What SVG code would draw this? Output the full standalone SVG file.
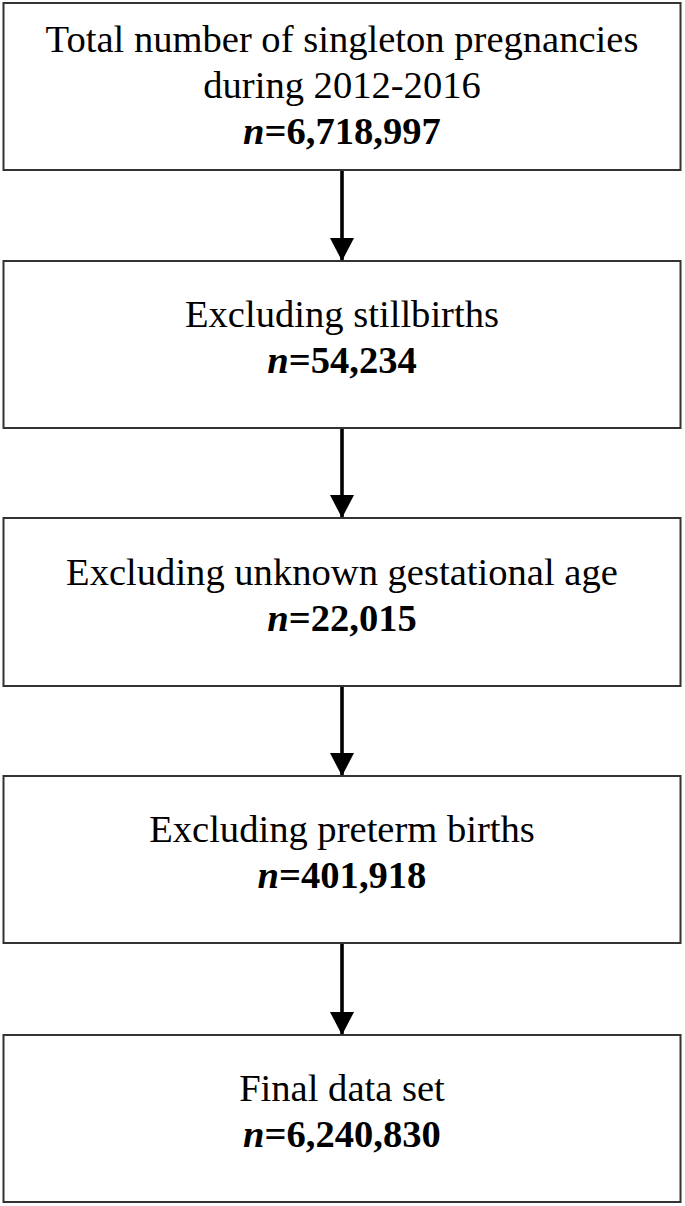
<svg xmlns="http://www.w3.org/2000/svg" width="685" height="1206" viewBox="0 0 685 1206">
<style>
.box{fill:#fff;stroke:#333;stroke-width:2}
.t{font-family:"Liberation Serif","Times New Roman",serif;font-size:38.6px;fill:#000;text-anchor:middle}
.b{font-weight:bold}
.i{font-style:italic}
.c{stroke:#000;stroke-width:3.6;fill:none}
</style>
<defs>
<marker id="ah" markerUnits="userSpaceOnUse" markerWidth="24" markerHeight="24" refX="23" refY="12" orient="auto" viewBox="0 0 24 24">
<path d="M0,0 L23,12 L0,24 Z" fill="#000"/>
</marker>
</defs>
<rect width="685" height="1206" fill="#fff"/>
<g id="connectors">
<line class="c" x1="342" y1="170" x2="342" y2="261" marker-end="url(#ah)"/>
<line class="c" x1="342" y1="428" x2="342" y2="518" marker-end="url(#ah)"/>
<line class="c" x1="342" y1="686" x2="342" y2="776" marker-end="url(#ah)"/>
<line class="c" x1="342" y1="943" x2="342" y2="1035" marker-end="url(#ah)"/>
</g>
<g id="n1">
<rect class="box" x="3.5" y="3" width="677" height="167"/>
<text class="t" x="342" y="52">Total number of singleton pregnancies</text>
<text class="t" x="342" y="98">during 2012-2016</text>
<text class="t b" x="342" y="144"><tspan class="i">n</tspan>=6,718,997</text>
</g>
<g id="n2">
<rect class="box" x="3.5" y="261" width="677" height="167"/>
<text class="t" x="342" y="327">Excluding stillbirths</text>
<text class="t b" x="342" y="373"><tspan class="i">n</tspan>=54,234</text>
</g>
<g id="n3">
<rect class="box" x="3.5" y="518" width="677" height="168"/>
<text class="t" x="342" y="585">Excluding unknown gestational age</text>
<text class="t b" x="342" y="631"><tspan class="i">n</tspan>=22,015</text>
</g>
<g id="n4">
<rect class="box" x="3.5" y="776" width="677" height="167"/>
<text class="t" x="342" y="842">Excluding preterm births</text>
<text class="t b" x="342" y="888"><tspan class="i">n</tspan>=401,918</text>
</g>
<g id="n5">
<rect class="box" x="3.5" y="1035" width="677" height="167"/>
<text class="t" x="342" y="1101">Final data set</text>
<text class="t b" x="342" y="1147"><tspan class="i">n</tspan>=6,240,830</text>
</g>
</svg>
